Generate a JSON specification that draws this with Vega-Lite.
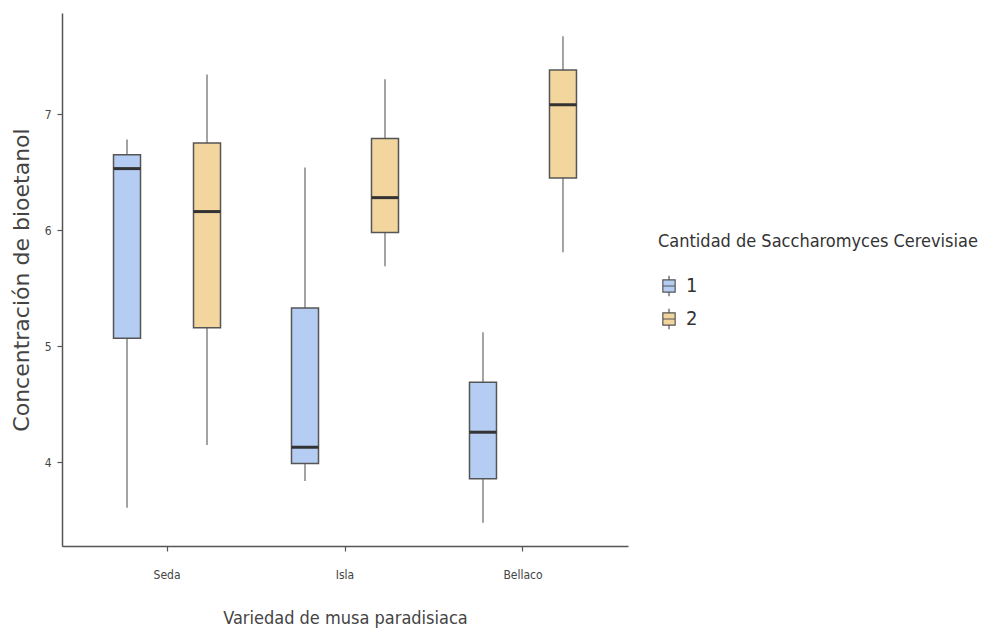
{
  "$schema": "https://vega.github.io/schema/vega-lite/v6.json",
  "width": 566,
  "height": 533,
  "autosize": {"type": "none"},
  "padding": {"left": 62, "top": 13, "right": 357, "bottom": 89},
  "background": "white",
  "config": {
    "view": {"stroke": null},
    "axis": {"grid": false, "domainColor": "#555555", "domainWidth": 1.5, "tickColor": "#555555", "tickWidth": 1.2, "tickSize": 5}
  },
  "data": {
    "values": [
      {"variedad": "Seda", "cantidad": "1", "min": 3.61, "q1": 5.07, "median": 6.53, "q3": 6.65, "max": 6.78},
      {"variedad": "Seda", "cantidad": "2", "min": 4.15, "q1": 5.16, "median": 6.16, "q3": 6.75, "max": 7.34},
      {"variedad": "Isla", "cantidad": "1", "min": 3.84, "q1": 3.99, "median": 4.13, "q3": 5.33, "max": 6.54},
      {"variedad": "Isla", "cantidad": "2", "min": 5.69, "q1": 5.98, "median": 6.28, "q3": 6.79, "max": 7.30},
      {"variedad": "Bellaco", "cantidad": "1", "min": 3.48, "q1": 3.86, "median": 4.26, "q3": 4.69, "max": 5.12},
      {"variedad": "Bellaco", "cantidad": "2", "min": 5.81, "q1": 6.45, "median": 7.08, "q3": 7.38, "max": 7.67}
    ]
  },
  "encoding": {
    "x": {
      "field": "variedad", "type": "nominal", "sort": ["Seda", "Isla", "Bellaco"],
      "scale": {"paddingInner": 0, "paddingOuter": 0.09},
      "axis": {
        "title": "Variedad de musa paradisiaca", "labelAngle": 0,
        "labelFont": "'Liberation Sans Narrow', 'DejaVu Sans Condensed', sans-serif", "labelFontSize": 12, "labelColor": "#444444", "labelPadding": 18,
        "titleFont": "'Liberation Sans Narrow', 'DejaVu Sans Condensed', sans-serif", "titleFontSize": 18, "titleFontWeight": "normal", "titleColor": "#444444", "titlePadding": 29
      }
    },
    "xOffset": {
      "field": "cantidad", "type": "nominal",
      "scale": {"domain": ["1", "2"], "paddingInner": 0, "paddingOuter": 0.1125}
    }
  },
  "layer": [
    {
      "mark": {"type": "rule", "color": "#666666", "strokeWidth": 1.2},
      "encoding": {
        "y": {
          "field": "min", "type": "quantitative",
          "scale": {"domain": [3.28, 7.87], "nice": false, "zero": false},
          "axis": {
            "title": "Concentración de bioetanol", "values": [4, 5, 6, 7], "format": "d",
            "labelFont": "'Liberation Sans Narrow', 'DejaVu Sans Condensed', sans-serif", "labelFontSize": 12, "labelColor": "#444444", "labelPadding": 6,
            "titleFont": "DejaVu Sans", "titleFontSize": 22, "titleFontWeight": "normal", "titleColor": "#444444", "titlePadding": 11
          }
        },
        "y2": {"field": "max"}
      }
    },
    {
      "mark": {"type": "bar", "size": 27, "stroke": "#555555", "strokeWidth": 1.5},
      "encoding": {
        "y": {"field": "q1", "type": "quantitative"},
        "y2": {"field": "q3"},
        "fill": {
          "field": "cantidad", "type": "nominal",
          "scale": {"domain": ["1", "2"], "range": ["#b5cdf2", "#f2d69e"]},
          "legend": {
            "title": "Cantidad de Saccharomyces Cerevisiae",
            "orient": "none", "legendX": 596, "legendY": 220,
            "titleFont": "'Liberation Sans Narrow', 'DejaVu Sans Condensed', sans-serif", "titleFontSize": 18, "titleFontWeight": "normal", "titleColor": "#333333", "titlePadding": 24, "titleLimit": 400,
            "labelFont": "'Liberation Sans Narrow', 'DejaVu Sans Condensed', sans-serif", "labelFontSize": 20, "labelColor": "#333333",
            "symbolType": "M-0.6,-0.6H0.6V0.6H-0.6Z M-0.6,0H0.6 M0,-0.6V-1 M0,0.6V1",
            "symbolSize": 420, "symbolStrokeColor": "#555555", "symbolStrokeWidth": 1.2, "symbolOpacity": 1,
            "rowPadding": 7, "labelOffset": 6
          }
        }
      }
    },
    {
      "mark": {"type": "tick", "size": 27, "thickness": 3, "color": "#333333", "opacity": 1},
      "encoding": {
        "y": {"field": "median", "type": "quantitative"}
      }
    }
  ]
}
